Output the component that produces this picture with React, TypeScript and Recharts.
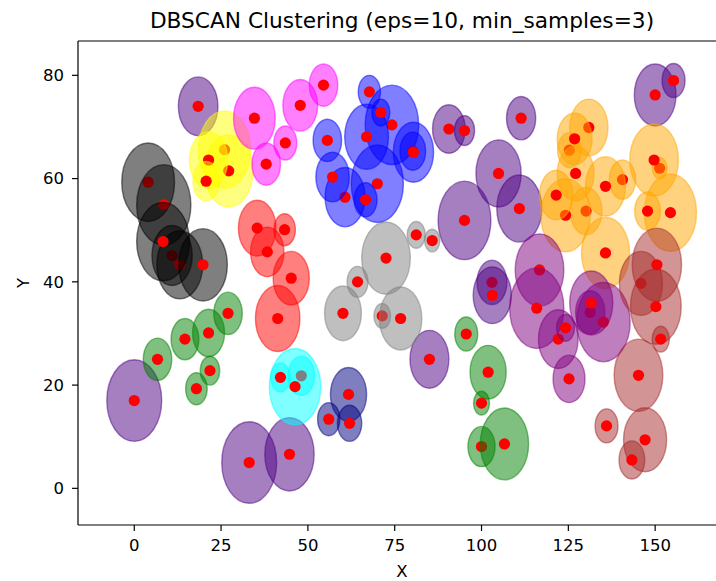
import { ScatterChart, Scatter, XAxis, YAxis, ReferenceLine } from "recharts";

type Pt = { x: number; y: number; r: number };

// axis limits and ticks
const X_MIN = -16.2;
const X_MAX = 170.4;
const Y_MIN = -7.1;
const Y_MAX = 86.65;
const X_TICKS = [0, 25, 50, 75, 100, 125, 150];
const Y_TICKS = [0, 20, 40, 60, 80];

// points per cluster: centre (x, y) and circle radius r in data units
const indigoPts: Pt[] = [
  { x: 0, y: 17, r: 7.9 },
  { x: 33.1, y: 5, r: 7.9 },
  { x: 44.7, y: 6.6, r: 7.1 },
  { x: 18.4, y: 74, r: 5.7 },
  { x: 85, y: 25, r: 5.6 },
  { x: 90.6, y: 69.6, r: 4.7 },
  { x: 95.1, y: 69.3, r: 2.9 },
  { x: 95.1, y: 51.9, r: 7.6 },
  { x: 104.9, y: 61, r: 6.5 },
  { x: 110.9, y: 54.2, r: 6.5 },
  { x: 111.4, y: 71.7, r: 4.2 },
  { x: 103, y: 39.9, r: 4.3 },
  { x: 103.1, y: 37.4, r: 5.5 },
  { x: 150, y: 76.2, r: 6 },
  { x: 155.3, y: 79, r: 3.3 },
];

const blackPts: Pt[] = [
  { x: 4, y: 59.3, r: 7.6 },
  { x: 8.5, y: 54.9, r: 7.8 },
  { x: 10.9, y: 45.1, r: 5.8 },
  { x: 13.1, y: 43.3, r: 6.6 },
  { x: 8.3, y: 47.8, r: 7.6 },
  { x: 19.8, y: 43.3, r: 7.0 },
];

const yellowPts: Pt[] = [
  { x: 26.0, y: 65.6, r: 7.5 },
  { x: 27.2, y: 61.5, r: 7.0 },
  { x: 21.4, y: 63.6, r: 5.5 },
  { x: 20.7, y: 59.5, r: 3.8 },
];

const magentaPts: Pt[] = [
  { x: 34.6, y: 71.7, r: 6.0 },
  { x: 43.5, y: 66.9, r: 3.3 },
  { x: 38.0, y: 62.8, r: 4.1 },
  { x: 47.8, y: 74.2, r: 5.0 },
  { x: 54.5, y: 78.1, r: 4.1 },
];

const redPts: Pt[] = [
  { x: 35.4, y: 50.4, r: 5.4 },
  { x: 43.3, y: 50.1, r: 3.1 },
  { x: 38.3, y: 45.8, r: 4.8 },
  { x: 45.2, y: 40.7, r: 5.2 },
  { x: 41.3, y: 32.9, r: 6.4 },
];

const greenPts: Pt[] = [
  { x: 6.7, y: 25, r: 4.1 },
  { x: 14.6, y: 28.9, r: 4.0 },
  { x: 21.4, y: 30.1, r: 4.6 },
  { x: 27, y: 33.9, r: 4.1 },
  { x: 21.8, y: 22.8, r: 2.8 },
  { x: 17.9, y: 19.3, r: 3.1 },
  { x: 95.6, y: 29.9, r: 3.3 },
  { x: 101.9, y: 22.5, r: 5.2 },
  { x: 100, y: 16.5, r: 2.3 },
  { x: 100, y: 8.1, r: 3.9 },
  { x: 106.6, y: 8.6, r: 6.95 },
];

const cyanPts: Pt[] = [
  { x: 48.1, y: 21.8, r: 3.8 },
  { x: 46.3, y: 19.7, r: 7.4 },
  { x: 42.1, y: 21.5, r: 2.8 },
];

const navyPts: Pt[] = [
  { x: 61.7, y: 18.2, r: 5.2 },
  { x: 56, y: 13.4, r: 3.2 },
  { x: 62, y: 12.6, r: 3.5 },
];

const grayPts: Pt[] = [
  { x: 72.5, y: 44.6, r: 7.0 },
  { x: 81.2, y: 49.1, r: 2.6 },
  { x: 85.8, y: 48, r: 2.2 },
  { x: 64.3, y: 40, r: 3.0 },
  { x: 60.1, y: 33.9, r: 5.3 },
  { x: 71.4, y: 33.4, r: 2.4 },
  { x: 76.7, y: 32.9, r: 6.1 },
];

const bluePts: Pt[] = [
  { x: 74.2, y: 70.4, r: 7.7 },
  { x: 66.9, y: 68.1, r: 6.3 },
  { x: 67.7, y: 76.8, r: 3.2 },
  { x: 71.0, y: 72.8, r: 2.6 },
  { x: 55.6, y: 67.4, r: 4.1 },
  { x: 80.2, y: 65.3, r: 3.7 },
  { x: 80.4, y: 65.1, r: 5.8 },
  { x: 70.0, y: 59.0, r: 7.5 },
  { x: 60.7, y: 56.4, r: 5.75 },
  { x: 66.6, y: 55.9, r: 3.3 },
  { x: 57.1, y: 60.3, r: 4.8 },
];

const orangePts: Pt[] = [
  { x: 130.9, y: 69.9, r: 5.5 },
  { x: 125.3, y: 65.5, r: 3.4 },
  { x: 126.8, y: 67.7, r: 5.0 },
  { x: 127.1, y: 61.0, r: 5.3 },
  { x: 140.6, y: 59.8, r: 3.8 },
  { x: 135.7, y: 58.5, r: 5.75 },
  { x: 130.1, y: 53.7, r: 4.6 },
  { x: 124.2, y: 52.9, r: 7.1 },
  { x: 121.5, y: 56.8, r: 4.8 },
  { x: 135.7, y: 45.6, r: 6.9 },
  { x: 151.3, y: 62.0, r: 2.1 },
  { x: 149.7, y: 63.6, r: 7.0 },
  { x: 154.4, y: 53.4, r: 7.5 },
  { x: 147.8, y: 53.7, r: 3.7 },
];

const purplePts: Pt[] = [
  { x: 116.7, y: 42.3, r: 7.0 },
  { x: 115.9, y: 34.9, r: 7.8 },
  { x: 122.1, y: 28.9, r: 5.7 },
  { x: 124.2, y: 31.1, r: 2.6 },
  { x: 125.2, y: 21.2, r: 4.6 },
  { x: 131.3, y: 34.1, r: 4.2 },
  { x: 135.1, y: 32.2, r: 7.7 },
  { x: 131.6, y: 35.9, r: 6.2 },
];

const brownPts: Pt[] = [
  { x: 145.9, y: 39.7, r: 6.2 },
  { x: 150.5, y: 43.3, r: 7.1 },
  { x: 150.2, y: 35.2, r: 7.3 },
  { x: 151.6, y: 28.9, r: 2.5 },
  { x: 145.2, y: 21.9, r: 7.0 },
  { x: 136, y: 12.1, r: 3.3 },
  { x: 147.1, y: 9.4, r: 6.2 },
  { x: 143.3, y: 5.5, r: 3.7 },
];

const CLUSTERS = [
  { name: "c0", color: "indigo", pts: indigoPts },
  { name: "c1", color: "black", pts: blackPts },
  { name: "c2", color: "yellow", pts: yellowPts },
  { name: "c3", color: "magenta", pts: magentaPts },
  { name: "c4", color: "red", pts: redPts },
  { name: "c5", color: "green", pts: greenPts },
  { name: "c6", color: "cyan", pts: cyanPts },
  { name: "c7", color: "navy", pts: navyPts },
  { name: "c8", color: "gray", pts: grayPts },
  { name: "c9", color: "blue", pts: bluePts },
  { name: "c10", color: "orange", pts: orangePts },
  { name: "c11", color: "purple", pts: purplePts },
  { name: "c12", color: "brown", pts: brownPts },
];

// layout
const W = 740;
const H = 581;
const PLOT_RIGHT = 726;
const MARGIN = { top: 41, right: W - PLOT_RIGHT, bottom: 0, left: 0 };
const Y_AXIS_W = 78;
const X_AXIS_H = 56;
const KX = (W - MARGIN.right - Y_AXIS_W) / (X_MAX - X_MIN);
const KY = (H - MARGIN.top - X_AXIS_H) / (Y_MAX - Y_MIN);

const FONT = "'DejaVu Sans', sans-serif";
const tickStyle = { fill: "#000", fontSize: 16.5, fontFamily: FONT };

// circle of radius r (data units) around each point, red marker on top
const bubble = (color: string) => (props: any) => {
  const { cx, cy, payload } = props;
  if (cx == null || cy == null) return <g />;
  return (
    <g>
      <ellipse
        cx={cx}
        cy={cy}
        rx={payload.r * KX}
        ry={payload.r * KY}
        fill={color}
        fillOpacity={0.5}
        stroke={color}
        strokeOpacity={0.5}
        strokeWidth={1.4}
      />
      <circle cx={cx} cy={cy} r={5.6} fill="#ff0000" />
    </g>
  );
};

export default function App() {
  return (
    <div
      style={{
        position: "fixed",
        left: 0,
        top: 0,
        width: 716,
        height: 581,
        overflow: "hidden",
        background: "#fff",
      }}
    >
      <div
        style={{
          position: "absolute",
          left: Y_AXIS_W,
          width: PLOT_RIGHT - Y_AXIS_W,
          top: 10,
          textAlign: "center",
          fontFamily: FONT,
          fontSize: 21.7,
          lineHeight: 1,
          color: "#000",
          whiteSpace: "nowrap",
        }}
      >
        DBSCAN Clustering (eps=10, min_samples=3)
      </div>
      <ScatterChart width={W} height={H} margin={MARGIN}>
        <XAxis
          type="number"
          dataKey="x"
          domain={[X_MIN, X_MAX]}
          ticks={X_TICKS}
          allowDataOverflow
          height={X_AXIS_H}
          tickSize={6}
          tickMargin={8}
          tick={tickStyle}
          stroke="#000"
          axisLine={{ stroke: "#000", strokeWidth: 1.2 }}
          tickLine={{ stroke: "#000", strokeWidth: 1.2 }}
          label={{
            value: "X",
            position: "insideBottom",
            offset: 4,
            fill: "#000",
            fontSize: 16.5,
            fontFamily: FONT,
          }}
        />
        <YAxis
          type="number"
          dataKey="y"
          domain={[Y_MIN, Y_MAX]}
          ticks={Y_TICKS}
          allowDataOverflow
          width={Y_AXIS_W}
          tickSize={6}
          tickMargin={8}
          tick={tickStyle}
          stroke="#000"
          axisLine={{ stroke: "#000", strokeWidth: 1.2 }}
          tickLine={{ stroke: "#000", strokeWidth: 1.2 }}
          label={{
            value: "Y",
            angle: -90,
            position: "insideLeft",
            offset: 23,
            fill: "#000",
            fontSize: 16.5,
            fontFamily: FONT,
            textAnchor: "middle",
          }}
        />
        <ReferenceLine y={Y_MAX} stroke="#000" strokeWidth={1.2} ifOverflow="visible" />
        <ReferenceLine x={X_MAX} stroke="#000" strokeWidth={1.2} ifOverflow="visible" />
        {CLUSTERS.map((c) => (
          <Scatter
            key={c.name}
            name={c.name}
            data={c.pts}
            shape={bubble(c.color)}
            isAnimationActive={false}
          />
        ))}
      </ScatterChart>
    </div>
  );
}
